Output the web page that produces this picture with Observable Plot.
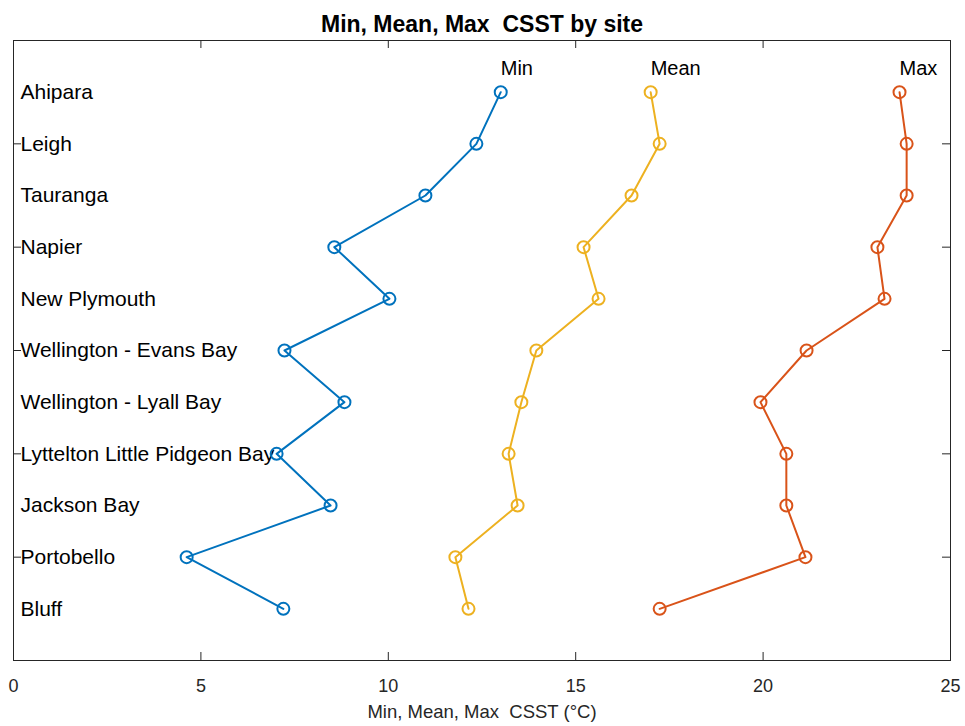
<!DOCTYPE html>
<html><head><meta charset="utf-8">
<script src="https://cdn.jsdelivr.net/npm/d3@7"></script>
<script src="https://cdn.jsdelivr.net/npm/@observablehq/plot@0.6"></script>
<style>body{margin:0;background:#fff;} svg{font-family:"Liberation Sans",Arial,sans-serif;}</style>
</head><body><div id="chart"></div>
<script>
const sites = ["Ahipara","Leigh","Tauranga","Napier","New Plymouth","Wellington - Evans Bay","Wellington - Lyall Bay","Lyttelton Little Pidgeon Bay","Jackson Bay","Portobello","Bluff"];
const minVals  = [13.0, 12.35, 10.99, 8.56, 10.03, 7.23, 8.83, 7.02, 8.46, 4.62, 7.20];
const meanVals = [17.0, 17.24, 16.49, 15.21, 15.61, 13.95, 13.55, 13.21, 13.45, 11.79, 12.14];
const maxVals  = [23.64, 23.83, 23.83, 23.05, 23.24, 21.16, 19.93, 20.62, 20.62, 21.13, 17.24];
const seriesNames = ["Min","Mean","Max"];
const seriesColors = ["#0072BD","#EDB120","#D95319"];
const xTicks = [0,5,10,15,20,25];
const yTicks = [2,4,6,8,10];
const title = "Min, Mean, Max  CSST by site";
const xLabel = "Min, Mean, Max  CSST (°C)";

const allSeries = [minVals, meanVals, maxVals];
const rows = [];
allSeries.forEach((vals, s) => vals.forEach((v, i) => rows.push({series: seriesNames[s], site: sites[i], pos: i + 1, value: v})));
const siteRows = sites.map((s, i) => ({site: s, pos: i + 1}));
const labelRows = seriesNames.map((n, s) => ({name: n, value: allSeries[s][0], pos: 0.5}));
const W = 965, H = 726, mL = 13, mR = 15, mT = 40, mB = 66;
const fh = H - mT - mB, fw = W - mL - mR;
const axisColor = "#262626";

const chart = Plot.plot({
  width: W, height: H,
  marginLeft: mL, marginRight: mR, marginTop: mT, marginBottom: mB,
  style: {fontFamily: "'Liberation Sans', Arial, sans-serif", background: "#fff"},
  x: {domain: [0, 25], ticks: xTicks, axis: null},
  y: {domain: [0, 12], reverse: true, axis: null},
  color: {domain: seriesNames, range: seriesColors},
  marks: [
    Plot.frame({stroke: axisColor, strokeWidth: 1}),
    Plot.tickX(xTicks.slice(1, -1), {x: d => d, stroke: axisColor, insetTop: fh - 8}),
    Plot.tickX(xTicks.slice(1, -1), {x: d => d, stroke: axisColor, insetBottom: fh - 8}),
    Plot.tickY(yTicks, {y: d => d, stroke: axisColor, insetRight: fw - 8}),
    Plot.tickY(yTicks, {y: d => d, stroke: axisColor, insetLeft: fw - 8}),
    Plot.text(xTicks, {x: d => d, frameAnchor: "bottom", lineAnchor: "middle", dy: 26, text: d => String(d), fontSize: 18, fill: axisColor}),
    Plot.text([xLabel], {frameAnchor: "bottom", lineAnchor: "middle", dy: 52, text: d => d, fontSize: 18.5, fill: axisColor}),
    Plot.text([title], {frameAnchor: "top", lineAnchor: "middle", dy: -16, text: d => d, fontSize: 23, fontWeight: "bold", fill: "#000"}),
    Plot.text(siteRows, {y: "pos", frameAnchor: "left", dx: 7, text: "site", textAnchor: "start", fontSize: 21, fill: "#000"}),
    Plot.text(labelRows, {x: "value", y: "pos", text: "name", textAnchor: "start", dy: 2, fontSize: 20, fill: "#000"}),
    Plot.line(rows, {x: "value", y: "pos", z: "series", stroke: "series", strokeWidth: 2}),
    Plot.dot(rows, {x: "value", y: "pos", stroke: "series", r: 6, strokeWidth: 2, fill: "none"})
  ]
});
document.getElementById("chart").appendChild(chart);
</script></body></html>
